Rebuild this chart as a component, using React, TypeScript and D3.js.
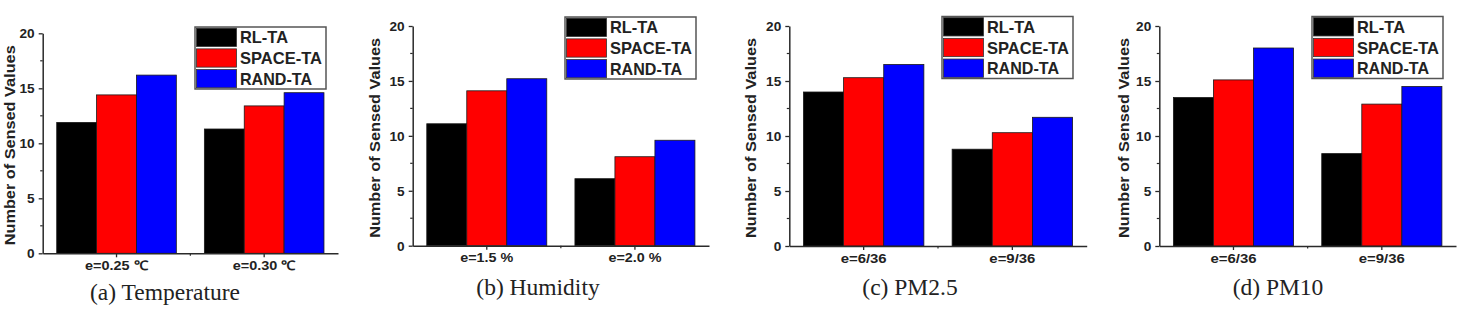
import { useEffect, useRef } from "react";
import * as d3 from "d3";

const seriesNames = ["RL-TA", "SPACE-TA", "RAND-TA"];
const seriesColors = ["#000000", "#ff0000", "#0000ff"];

const tempGroups = ["e=0.25 \u2103", "e=0.30 \u2103"];
const tempRL = [11.9, 11.3];
const tempSpace = [14.4, 13.4];
const tempRand = [16.2, 14.6];

const humGroups = ["e=1.5 %", "e=2.0 %"];
const humRL = [11.1, 6.1];
const humSpace = [14.1, 8.1];
const humRand = [15.2, 9.6];

const pm25Groups = ["e=6/36", "e=9/36"];
const pm25RL = [14.0, 8.8];
const pm25Space = [15.3, 10.3];
const pm25Rand = [16.5, 11.7];

const pm10Groups = ["e=6/36", "e=9/36"];
const pm10RL = [13.5, 8.4];
const pm10Space = [15.1, 12.9];
const pm10Rand = [18.0, 14.5];

const yTicks = [0, 5, 10, 15, 20];
const yMinor = [2.5, 7.5, 12.5, 17.5];

const panels = [
  { title: "(a) Temperature", groups: tempGroups, values: [tempRL, tempSpace, tempRand], catWidth: 63,
    x0: 42.7, x1: 338, top: 33.3, bottom: 253.3, labelX: 14.5, titleX: 165, titleY: 300, legend: [195, 27] },
  { title: "(b) Humidity", groups: humGroups, values: [humRL, humSpace, humRand], catWidth: 53,
    x0: 412.7, x1: 709, top: 26, bottom: 245.7, labelX: 380, titleX: 538, titleY: 295, legend: [565, 17] },
  { title: "(c) PM2.5", groups: pm25Groups, values: [pm25RL, pm25Space, pm25Rand], catWidth: 46,
    x0: 789.3, x1: 1086.7, top: 26, bottom: 246, labelX: 756, titleX: 910, titleY: 295, legend: [942, 16.5] },
  { title: "(d) PM10", groups: pm10Groups, values: [pm10RL, pm10Space, pm10Rand], catWidth: 46,
    x0: 1159.3, x1: 1456, top: 26, bottom: 246, labelX: 1129, titleX: 1278, titleY: 295, legend: [1312, 16.5] },
];

// legend text widths (px)
const legendWidths = [48, 82, 72];

const W = 1476, H = 314;
const sans = "Arial, 'Liberation Sans', sans-serif";
const axisColor = "#2a2a2a";

export default function App() {
  const svgRef = useRef<SVGSVGElement>(null);

  useEffect(() => {
    const svg = d3.select(svgRef.current);
    svg.selectAll("*").remove();

    svg.append("rect").attr("width", W).attr("height", H).attr("fill", "#fff");

    panels.forEach(p => {
      const L = p.x1 - p.x0;
      const g = svg.append("g").attr("transform", `translate(${p.x0},0)`);

      const x = d3.scaleBand().domain(p.groups).range([0, L]).paddingInner(0.19).paddingOuter(0.095);
      const xSub = d3.scaleBand().domain(seriesNames).range([0, x.bandwidth()]);
      const y = d3.scaleLinear().domain([0, 20]).range([p.bottom, p.top]);

      // bars, one group per series
      seriesNames.forEach((s, si) => {
        g.append("g")
          .selectAll("rect")
          .data(p.groups.map((grp, gi) => ({ grp, v: p.values[si][gi] })))
          .join("rect")
          .attr("x", d => x(d.grp)! + xSub(s)!)
          .attr("y", d => y(d.v))
          .attr("width", xSub.bandwidth())
          .attr("height", d => y(0) - y(d.v))
          .attr("fill", seriesColors[si])
          .attr("stroke", "#1a1a1a")
          .attr("stroke-width", 0.8);
      });

      // y axis with minor ticks
      const yAxis = g.append("g")
        .call(d3.axisLeft(y).tickValues(yTicks).tickFormat(d3.format("d")).tickSize(4).tickSizeOuter(0).tickPadding(4));
      yAxis.select(".domain").attr("stroke", axisColor).attr("stroke-width", 1.5);
      yAxis.selectAll(".tick line").attr("stroke", axisColor).attr("stroke-width", 1.3);
      yAxis.selectAll<SVGTextElement, number>(".tick text")
        .attr("font-family", sans).attr("font-weight", "bold").attr("font-size", 13.5).attr("fill", "#222")
        .attr("textLength", d => String(d).length * 7.6)
        .attr("lengthAdjust", "spacingAndGlyphs");
      g.append("g").selectAll("line").data(yMinor).join("line")
        .attr("x1", -2.5).attr("x2", 0)
        .attr("y1", d => y(d)).attr("y2", d => y(d))
        .attr("stroke", axisColor).attr("stroke-width", 1.2);

      // x axis
      const xAxis = g.append("g").attr("transform", `translate(0,${p.bottom})`)
        .call(d3.axisBottom(x).tickSize(4).tickSizeOuter(0).tickPadding(3.5));
      xAxis.select(".domain").attr("stroke", axisColor).attr("stroke-width", 1.5);
      xAxis.selectAll(".tick line").attr("stroke", axisColor).attr("stroke-width", 1.3);
      xAxis.selectAll(".tick text")
        .attr("font-family", sans).attr("font-weight", "bold").attr("font-size", 13).attr("fill", "#222")
        .attr("textLength", p.catWidth)
        .attr("lengthAdjust", "spacingAndGlyphs");
      const mid = (x(p.groups[0])! + x.bandwidth() + x(p.groups[1])!) / 2;
      g.append("line")
        .attr("x1", mid).attr("x2", mid).attr("y1", p.bottom).attr("y2", p.bottom + 2.5)
        .attr("stroke", axisColor).attr("stroke-width", 1.2);

      // y label
      svg.append("text")
        .attr("transform", `translate(${p.labelX},${(p.top + p.bottom) / 2 + 2}) rotate(-90)`)
        .attr("text-anchor", "middle")
        .attr("font-family", sans).attr("font-weight", "bold").attr("font-size", 15)
        .attr("fill", "#222")
        .attr("textLength", 200)
        .attr("lengthAdjust", "spacingAndGlyphs")
        .text("Number of Sensed Values");

      // caption
      svg.append("text")
        .attr("x", p.titleX).attr("y", p.titleY)
        .attr("text-anchor", "middle")
        .attr("font-family", "'Liberation Serif', 'Times New Roman', serif")
        .attr("font-size", 23.5).attr("fill", "#222")
        .text(p.title);

      // legend
      const [lx, ly] = p.legend;
      const lw = 131, lh = 62, rowH = lh / 3;
      const leg = svg.append("g").attr("transform", `translate(${lx},${ly})`);
      leg.append("rect").attr("width", lw).attr("height", lh)
        .attr("fill", "#fff").attr("stroke", "#555").attr("stroke-width", 1.5);
      seriesNames.forEach((s, i) => {
        leg.append("rect")
          .attr("x", 1.5).attr("y", i * rowH + 1.2)
          .attr("width", 40).attr("height", rowH - 2.4)
          .attr("fill", seriesColors[i]).attr("stroke", "#333").attr("stroke-width", 0.8);
        leg.append("text")
          .attr("x", 45).attr("y", i * rowH + rowH / 2 + 6)
          .attr("font-family", sans).attr("font-weight", "bold").attr("font-size", 17)
          .attr("fill", "#222")
          .attr("textLength", legendWidths[i])
          .attr("lengthAdjust", "spacingAndGlyphs")
          .text(s);
      });
    });
  }, []);

  return (
    <svg ref={svgRef} width={W} height={H} style={{ position: "absolute", left: 0, top: 0 }} />
  );
}
